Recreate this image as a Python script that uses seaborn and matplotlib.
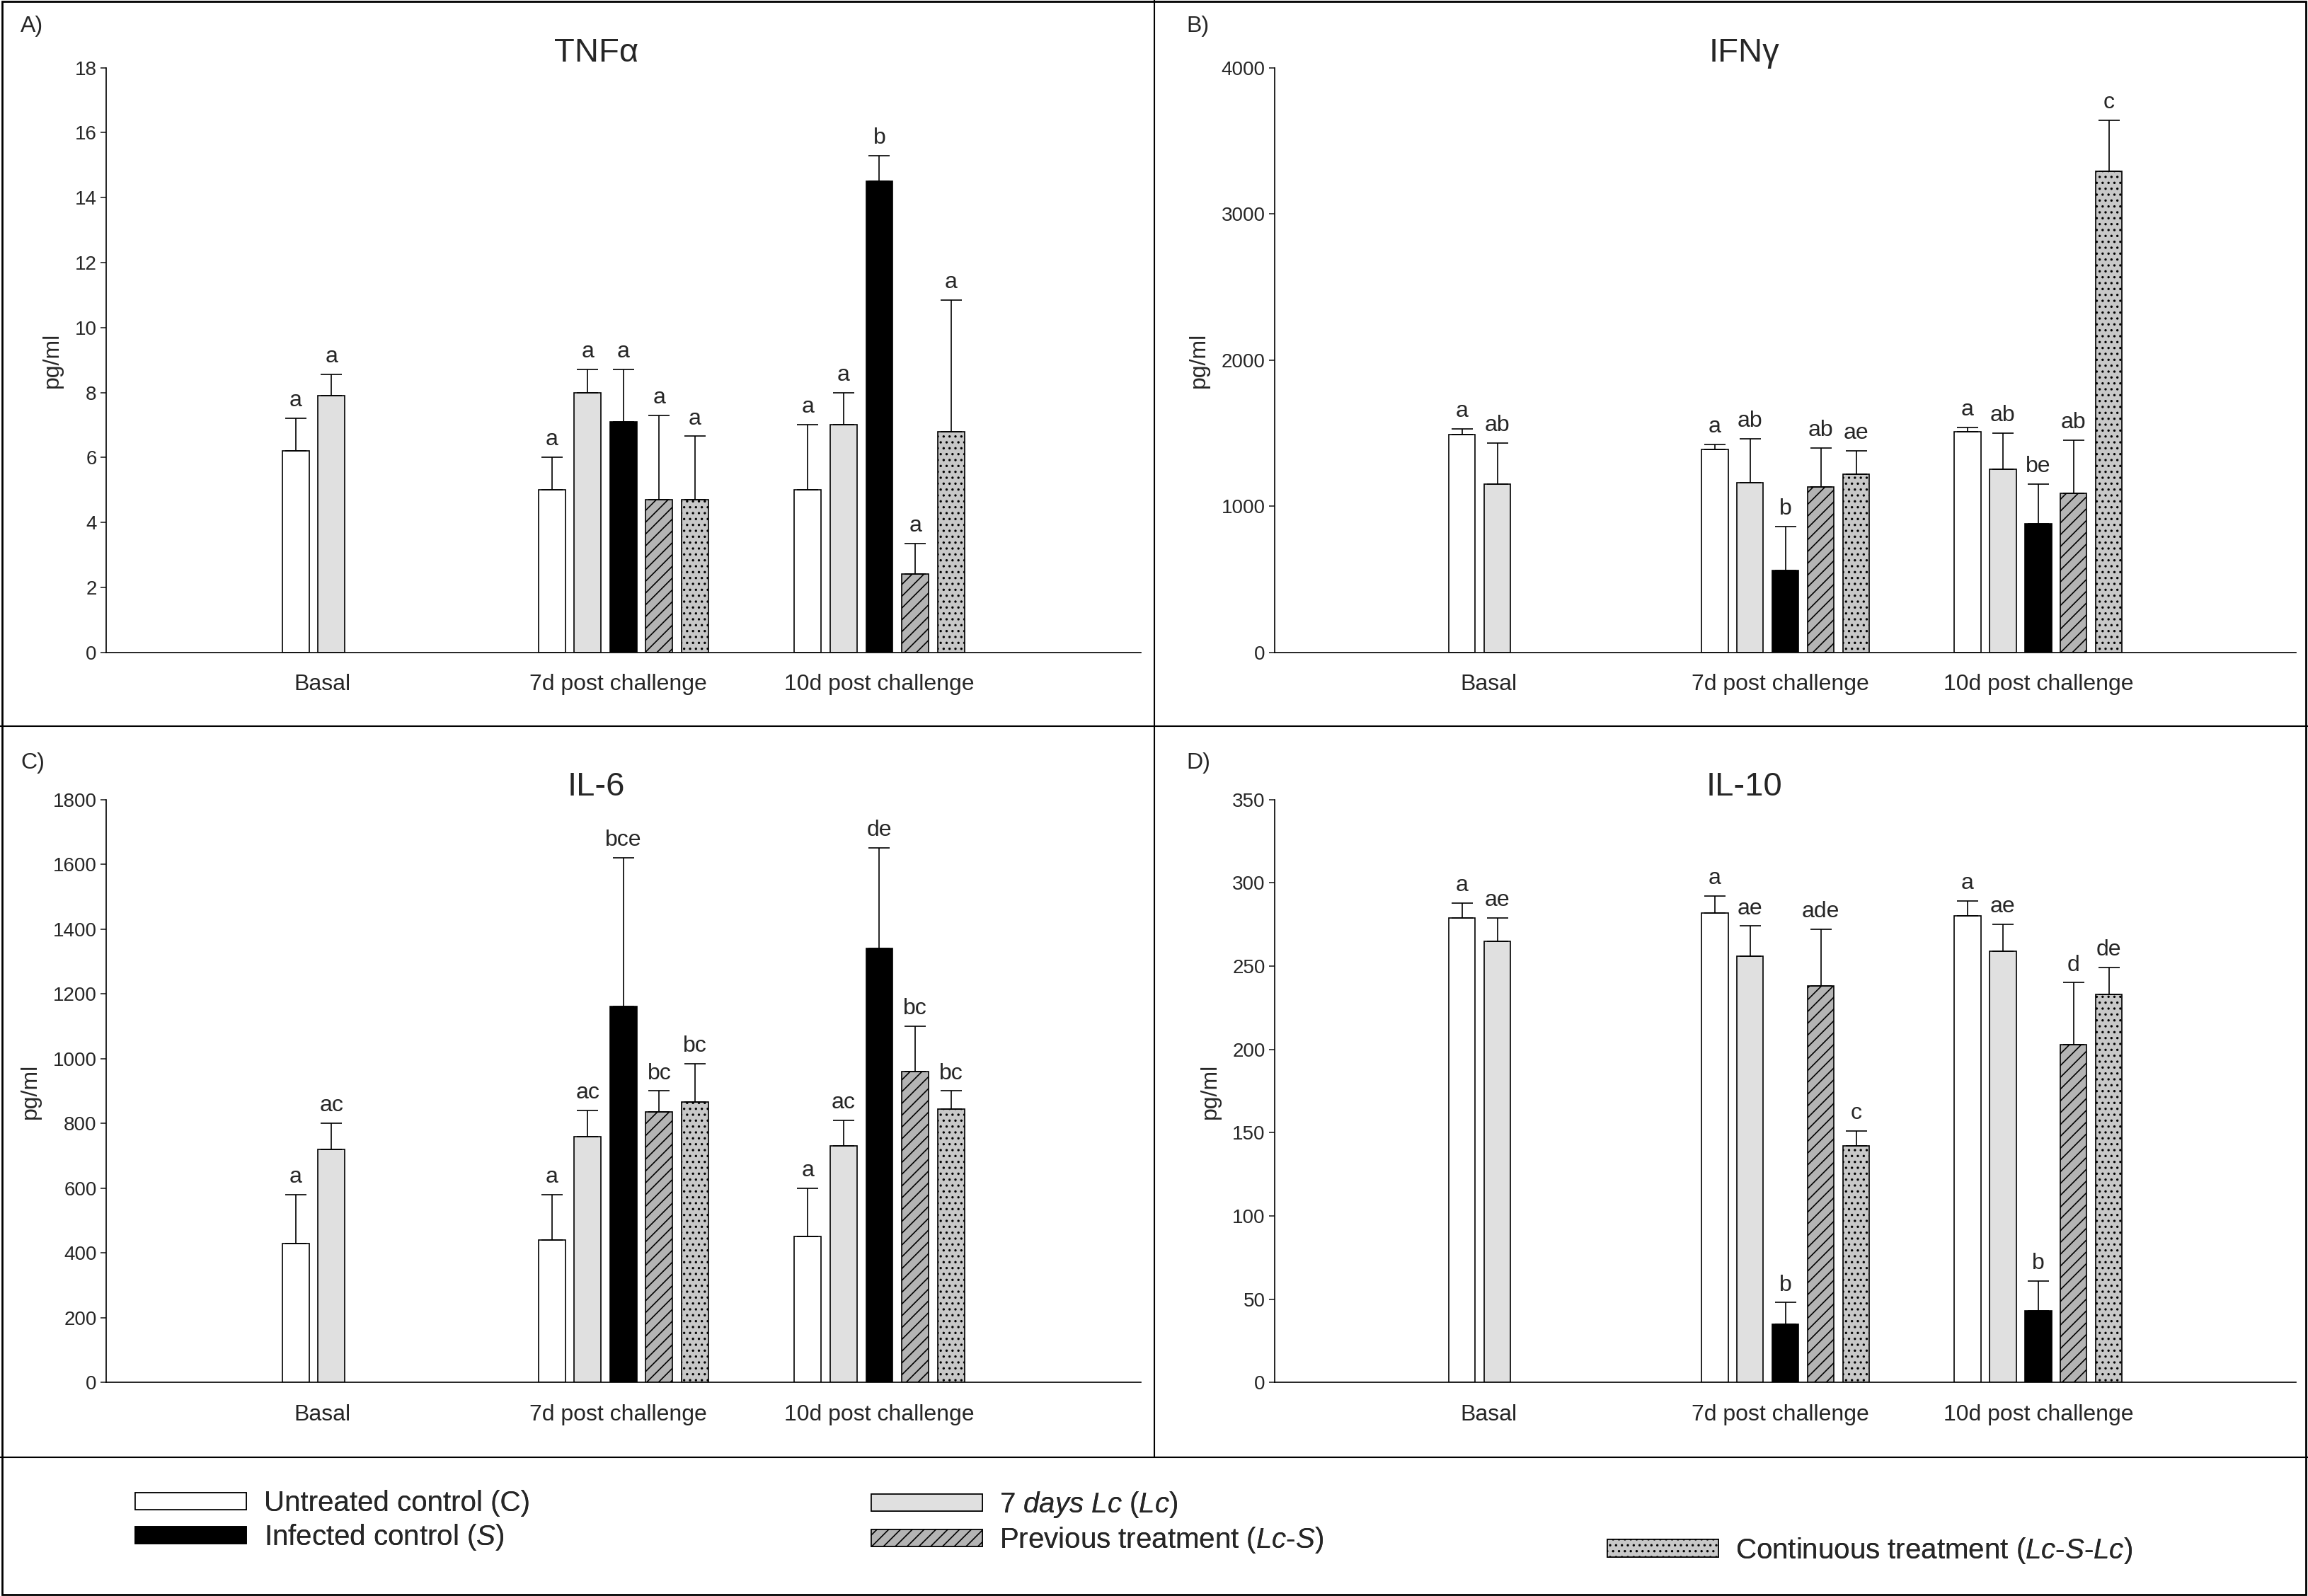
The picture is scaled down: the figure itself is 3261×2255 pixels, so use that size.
import numpy as np
import pandas as pd
import matplotlib.pyplot as plt
import seaborn as sns
from matplotlib.patches import Patch, Rectangle
from matplotlib.lines import Line2D

sns.set_theme(style="ticks")
plt.rcParams['font.family'] = ['Liberation Sans', 'DejaVu Sans']
plt.rcParams['mathtext.fontset'] = 'custom'
plt.rcParams['mathtext.it'] = 'Liberation Sans:italic'
plt.rcParams['mathtext.rm'] = 'Liberation Sans'
plt.rcParams['hatch.linewidth'] = 1.2

# ── data ───────────────────────────────────────────────
groups = ["Basal", "7d post challenge", "10d post challenge"]
treatments = ["C", "Lc", "S", "LcS", "LcSLc"]
basal_treatments = ["C", "Lc"]

tnf_mean = [6.2, 7.9, 5.0, 8.0, 7.1, 4.7, 4.7, 5.0, 7.0, 14.5, 2.4, 6.8]
tnf_err = [1.0, 0.65, 1.0, 0.7, 1.6, 2.6, 1.95, 2.0, 1.0, 0.8, 0.95, 4.05]
tnf_lab = ["a", "a", "a", "a", "a", "a", "a", "a", "a", "b", "a", "a"]

ifn_mean = [1490, 1150, 1390, 1160, 560, 1130, 1220, 1510, 1250, 880, 1090, 3290]
ifn_err = [40, 280, 30, 300, 300, 270, 160, 30, 250, 270, 360, 350]
ifn_lab = ["a", "ab", "a", "ab", "b", "ab", "ae", "a", "ab", "be", "ab", "c"]

il6_mean = [430, 720, 440, 760, 1160, 835, 865, 450, 730, 1340, 960, 845]
il6_err = [150, 80, 140, 80, 460, 65, 120, 150, 80, 310, 140, 55]
il6_lab = ["a", "ac", "a", "ac", "bce", "bc", "bc", "a", "ac", "de", "bc", "bc"]

il10_mean = [279, 265, 282, 256, 35, 238, 142, 280, 259, 43, 203, 233]
il10_err = [9, 14, 10, 18, 13, 34, 9, 9, 16, 18, 37, 16]
il10_lab = ["a", "ae", "a", "ae", "b", "ade", "c", "a", "ae", "b", "d", "de"]

colors = {"C": "white", "Lc": "#e0e0e0", "S": "black", "LcS": "#b4b4b4", "LcSLc": "#c8c8c8"}
hatches = {"C": "", "Lc": "", "S": "", "LcS": "//", "LcSLc": ".."}

# bar positions (in bar-spacing units)
group_start = [0.0, 7.15, 14.3]
rows = []
for gi, g in enumerate(groups):
    tr = basal_treatments if gi == 0 else treatments
    for k, t in enumerate(tr):
        rows.append((g, t, group_start[gi] + k))
base = pd.DataFrame(rows, columns=["group", "treatment", "x"])

panels = [
    ("A)", "TNF\u03b1", tnf_mean, tnf_err, tnf_lab, 18, 2),
    ("B)", "IFN\u03b3", ifn_mean, ifn_err, ifn_lab, 4000, 1000),
    ("C)", "IL-6", il6_mean, il6_err, il6_lab, 1800, 200),
    ("D)", "IL-10", il10_mean, il10_err, il10_lab, 350, 50),
]

fig = plt.figure(figsize=(32.61, 22.55), dpi=100)
W, H = 1568, 1084
boxes = [(72, 775, 46, 443), (866, 1560, 46, 443), (72, 775, 543, 939), (866, 1560, 543, 939)]
labpos = [(14, 18), (806, 18), (14, 518), (806, 518)]
titlepos = [405, 1185, 405, 1185]

for i, (plab, title, mean, err, lab, ymax, ystep) in enumerate(panels):
    x0, x1, yt, yb = boxes[i]
    ax = fig.add_axes([x0 / W, 1 - yb / H, (x1 - x0) / W, (yb - yt) / H])
    df = base.copy()
    df["value"] = mean
    df["err"] = err
    df["lab"] = lab
    sns.barplot(data=df, x="x", y="value", hue="treatment", hue_order=treatments,
                palette=colors, native_scale=True, dodge=False, width=0.75,
                edgecolor="black", linewidth=1.2, legend=False, ax=ax)
    # hatches by matching bar position
    for p in ax.patches:
        cx = p.get_x() + p.get_width() / 2
        match = df.loc[(df["x"] - cx).abs() < 0.01, "treatment"]
        if len(match):
            p.set_hatch(hatches[match.iloc[0]])
    ax.errorbar(df["x"], df["value"], yerr=[np.zeros(len(df)), df["err"]],
                fmt="none", ecolor="black", elinewidth=1.2, capsize=11, capthick=1.2)
    for _, r in df.iterrows():
        ax.text(r["x"], r["value"] + r["err"] + ymax * 0.012, r["lab"],
                ha="center", va="bottom", fontsize=23)
    ax.set_xlim(-5.3, 23.6)
    ax.set_ylim(0, ymax)
    ax.set_yticks(np.arange(0, ymax + 1, ystep))
    ax.set_xticks([0.75, 9.0, 16.3])
    ax.set_xticklabels(groups, fontsize=23)
    ax.tick_params(axis="x", length=0, pad=22)
    ax.tick_params(axis="y", labelsize=20, length=6, width=1.2)
    ax.set_xlabel("")
    ax.set_ylabel("pg/ml", fontsize=23, labelpad=12)
    for s in ["top", "right"]:
        ax.spines[s].set_visible(False)
    for s in ["left", "bottom"]:
        ax.spines[s].set_linewidth(1.2)
        ax.spines[s].set_color("black")
    fig.text(labpos[i][0] / W, 1 - labpos[i][1] / H, plab, fontsize=23, va="center")
    fig.text(titlepos[i] / W, 1 - 36 / H - (0.46 if i >= 2 else 0), title,
             fontsize=34, ha="center", va="center")

# frame lines
for ln in [
    Line2D([0.5, 0.5], [1 - 990 / H, 1], transform=fig.transFigure),
    Line2D([0, 1], [1 - 493 / H] * 2, transform=fig.transFigure),
    Line2D([0, 1], [1 - 990 / H] * 2, transform=fig.transFigure),
]:
    ln.set_color("black")
    ln.set_linewidth(1.5)
    fig.add_artist(ln)
fig.add_artist(Rectangle((0.001, 0.001), 0.998, 0.998, transform=fig.transFigure,
                         fill=False, edgecolor="black", linewidth=2))

# legend: three columns placed by hand
def h(t):
    return Patch(facecolor=colors[t], edgecolor="black", hatch=hatches[t], linewidth=1.2)

cols = [
    ([h("C"), h("S")], ["Untreated control (C)", r"Infected control ($\mathit{S}$)"], 92, 1012),
    ([h("LcS") if False else h("Lc"), h("LcS")],
     [r"$\mathit{7\ days\ Lc}$ ($\mathit{Lc}$)", r"Previous treatment ($\mathit{Lc}$-$\mathit{S}$)"], 592, 1012),
    ([h("LcSLc")], [r"Continuous treatment ($\mathit{Lc}$-$\mathit{S}$-$\mathit{Lc}$)"], 1092, 1043),
]
for hs, ls, lx, ly in cols:
    leg = fig.legend(hs, ls, loc="upper left", bbox_to_anchor=(lx / W, 1 - ly / H),
                     frameon=False, fontsize=29, handlelength=3.9, handleheight=0.55,
                     handletextpad=0.6, labelspacing=0.2, borderaxespad=0, borderpad=0)
    fig.add_artist(leg)

plt.savefig("out.png", dpi=100)
